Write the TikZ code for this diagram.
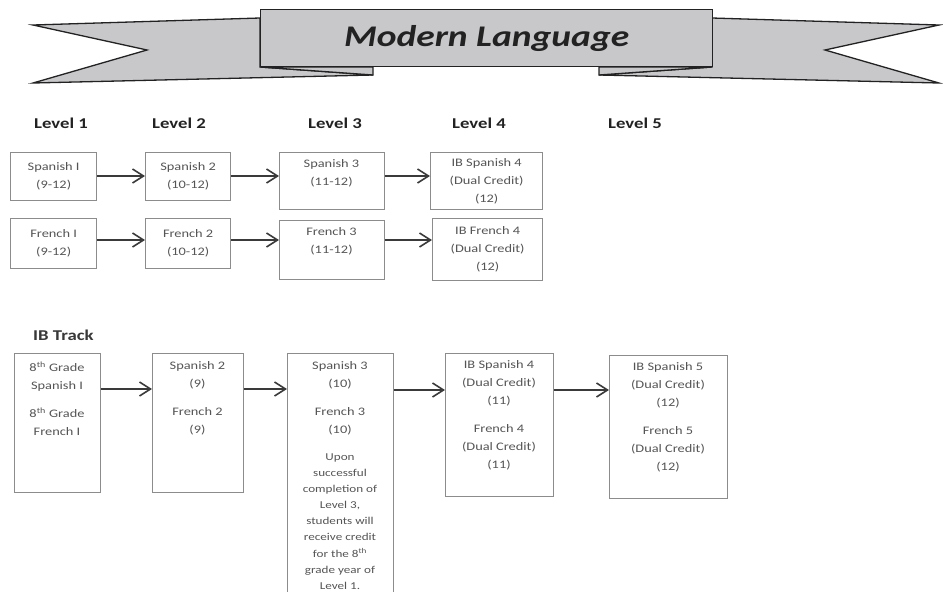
\documentclass[tikz,border=0pt]{standalone}
\usepackage{fontspec}
\setmainfont{Carlito}[FakeStretch=1.25]
\usetikzlibrary{arrows.meta}
\definecolor{ribbon}{HTML}{C8C8CB}
\definecolor{ink}{HTML}{222222}
\definecolor{txtgray}{HTML}{555555}
\definecolor{boxgray}{HTML}{8C8C8C}
\definecolor{arrowgray}{HTML}{3A3A3A}
\begin{document}
\begin{tikzpicture}[x=1pt,y=-1pt,
  boxr/.style={draw=boxgray, line width=1.3pt, fill=white, anchor=north west, inner sep=0pt, text=txtgray, align=center, font=\fontsize{11.5}{18}\selectfont},
  txt/.style={text=txtgray, align=center, inner sep=0pt, font=\fontsize{11.5}{18}\selectfont},
  note/.style={text=txtgray, align=center, inner sep=0pt, font=\fontsize{10.5}{16.1}\selectfont},
  lvl/.style={text=ink, font=\bfseries\fontsize{15}{18}\selectfont, inner sep=0pt},
  arr/.style={draw=arrowgray, line width=2pt, -{Straight Barb[length=11pt,width=14pt,line width=1.6pt]}},
  rib/.style={fill=ribbon, draw=ink, line width=1.3pt, line join=miter}
]
\useasboundingbox (0,0) rectangle (943,592);

% ---- banner ----
\path[rib] (33,25) -- (260,18) -- (260,67) -- (373,75) -- (33,83) -- (147,50) -- cycle;
\path[rib] (939,25) -- (712,18) -- (712,67) -- (599,75) -- (939,83) -- (825,50) -- cycle;
\node[rib, anchor=north west, minimum width=452pt, minimum height=57pt, inner sep=0pt,
      font=\bfseries\itshape\fontsize{30}{30}\selectfont, text=ink] (title) at (260,9) {Modern Language};
\path[rib] (260,67) -- (373,67) -- (373,75) -- cycle;
\path[rib] (712,67) -- (599,67) -- (599,75) -- cycle;

% ---- level headers ----
\node[lvl] (l1) at (61,123) {Level 1};
\node[lvl] (l2) at (179,123) {Level 2};
\node[lvl] (l3) at (335,123) {Level 3};
\node[lvl] (l4) at (479,123) {Level 4};
\node[lvl] (l5) at (635,123) {Level 5};

% ---- row 1 ----
\node[boxr, minimum width=86pt, minimum height=48pt] (s1) at (10,152) {Spanish I\\(9-12)};
\node[boxr, minimum width=85pt, minimum height=48pt] (s2) at (145,152) {Spanish 2\\(10-12)};
\node[boxr, minimum width=105pt, minimum height=57pt] (s3) at (279,152) {};
\node[txt] (s3t) at (331.5,173) {Spanish 3\\(11-12)};
\node[boxr, minimum width=112pt, minimum height=57pt] (s4) at (430,152) {IB Spanish 4\\(Dual Credit)\\(12)};

% ---- row 2 ----
\node[boxr, minimum width=86pt, minimum height=50pt] (f1) at (10,218) {French I\\(9-12)};
\node[boxr, minimum width=85pt, minimum height=50pt] (f2) at (145,218) {French 2\\(10-12)};
\node[boxr, minimum width=105pt, minimum height=59pt] (f3) at (279,220) {};
\node[txt] (f3t) at (331.5,241.5) {French 3\\(11-12)};
\node[boxr, minimum width=110pt, minimum height=62pt] (f4) at (432,218) {IB French 4\\(Dual Credit)\\(12)};

\draw[arr] (s1.east |- 0,176) -- (s2.west |- 0,176);
\draw[arr] (s2.east |- 0,176) -- (s3.west |- 0,176);
\draw[arr] (s3.east |- 0,176) -- (s4.west |- 0,176);
\draw[arr] (f1.east |- 0,240) -- (f2.west |- 0,240);
\draw[arr] (f2.east |- 0,240) -- (f3.west |- 0,240);
\draw[arr] (f3.east |- 0,240) -- (f4.west |- 0,240);

% ---- IB track ----
\node[lvl, anchor=west, text=ink!90] (ib) at (33,335) {IB Track};
\node[boxr, minimum width=86pt, minimum height=139pt] (b1) at (14,353) {};
\node[txt] (b1t) at (57,398.5) {8\textsuperscript{th} Grade\\Spanish I\\[10pt]8\textsuperscript{th} Grade\\French I};
\node[boxr, minimum width=91pt, minimum height=139pt] (b2) at (152,353) {};
\node[txt] (b2t) at (197.5,398.5) {Spanish 2\\(9)\\[10pt]French 2\\(9)};
\node[boxr, minimum width=106pt, minimum height=245pt] (b3) at (287,353) {};
\node[txt] (b3t) at (340,398) {Spanish 3\\(10)\\[10pt]French 3\\(10)};
\node[note] (b3n) at (340,521.5) {Upon\\successful\\completion of\\Level 3,\\students will\\receive credit\\for the 8\textsuperscript{th}\\grade year of\\Level 1.};
\node[boxr, minimum width=108pt, minimum height=143pt] (b4) at (445,353) {};
\node[txt] (b4t) at (499,415) {IB Spanish 4\\(Dual Credit)\\(11)\\[10pt]French 4\\(Dual Credit)\\(11)};
\node[boxr, minimum width=118pt, minimum height=143pt] (b5) at (609,355) {};
\node[txt] (b5t) at (668,417) {IB Spanish 5\\(Dual Credit)\\(12)\\[10pt]French 5\\(Dual Credit)\\(12)};

\draw[arr] (b1.east |- 0,389) -- (b2.west |- 0,389);
\draw[arr] (b2.east |- 0,389) -- (b3.west |- 0,389);
\draw[arr] (b3.east |- 0,390) -- (b4.west |- 0,390);
\draw[arr] (b4.east |- 0,390) -- (b5.west |- 0,390);
\end{tikzpicture}
\end{document}
